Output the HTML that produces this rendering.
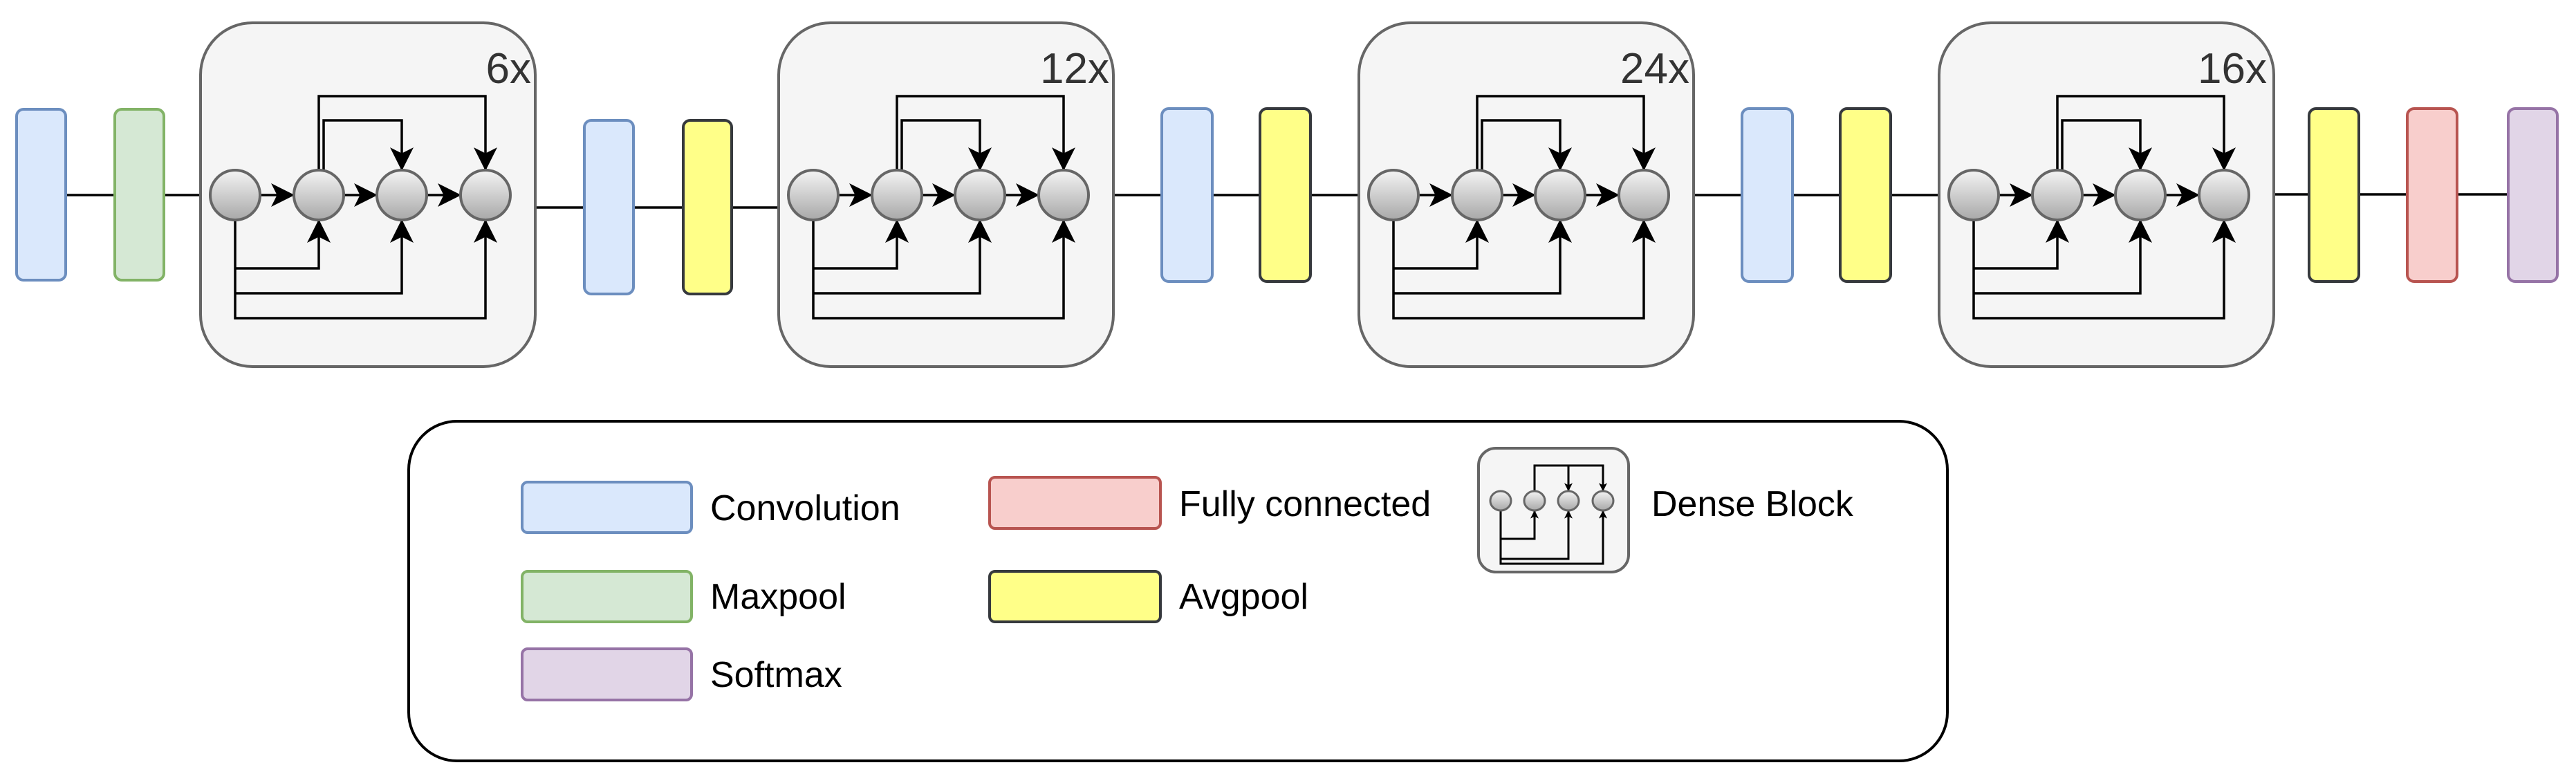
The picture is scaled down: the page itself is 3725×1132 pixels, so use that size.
<!DOCTYPE html>
<html><head><meta charset="utf-8"><style>html,body{margin:0;padding:0;background:#fff}svg{display:block}</style></head>
<body>
<svg width="3725" height="1132" viewBox="0 0 3725 1132" xmlns="http://www.w3.org/2000/svg" font-family="Liberation Sans, Arial, sans-serif">
<defs>
<linearGradient id="g" x1="0" y1="0" x2="0" y2="1"><stop offset="0" stop-color="#f4f4f4"/><stop offset="1" stop-color="#a8a8a8"/></linearGradient>
<marker id="a" markerUnits="userSpaceOnUse" markerWidth="34" markerHeight="34" viewBox="0 0 32 32" refX="31" refY="16" orient="auto"><path d="M0,0 L32,16 L0,32 L8,16 z" fill="#000"/></marker>
<marker id="s" markerUnits="userSpaceOnUse" markerWidth="12" markerHeight="12" viewBox="0 0 32 32" refX="31" refY="16" orient="auto"><path d="M0,0 L32,16 L0,32 L8,16 z" fill="#000"/></marker>
<g id="blk">
<rect x="0" y="33" width="484" height="497" rx="75" fill="#f5f5f5" stroke="#666" stroke-width="4"/>
<g fill="none" stroke="#000" stroke-width="3.5">
<path d="M171,246 V139 H412 V246" marker-end="url(#a)"/>
<path d="M178,246 V174 H291 V246" marker-end="url(#a)"/>
<path d="M50,318 V460 H412 V318" marker-end="url(#a)"/>
<path d="M50,388 H171 V318" marker-end="url(#a)"/>
<path d="M50,424 H291 V318" marker-end="url(#a)"/>
<path d="M86,282 H135" marker-end="url(#a)"/>
<path d="M207,282 H255" marker-end="url(#a)"/>
<path d="M327,282 H376" marker-end="url(#a)"/>
</g>
<g fill="url(#g)" stroke="#666" stroke-width="4">
<circle cx="50" cy="282" r="36"/><circle cx="171" cy="282" r="36"/><circle cx="291" cy="282" r="36"/><circle cx="412" cy="282" r="36"/>
</g>
</g>
</defs>

<!-- connectors main line -->
<g stroke="#000" stroke-width="3.5" fill="none">
<path d="M95,282 H166"/><path d="M238,282 H304"/>
<path d="M756,300 H845"/><path d="M916,300 H988"/><path d="M1058,300 H1126"/>
<path d="M1573,282 H1680"/><path d="M1753,282 H1822"/><path d="M1895,282 H1979"/>
<path d="M2412,282 H2519"/><path d="M2592,282 H2661"/><path d="M2734,282 H2818"/>
<path d="M3251,281 H3339"/><path d="M3411,281 H3481"/><path d="M3553,281 H3627"/>
</g>

<use href="#blk" x="290"/>
<use href="#blk" x="1126"/>
<use href="#blk" x="1965"/>
<use href="#blk" x="2804"/>
<g font-size="62" fill="#333" text-anchor="end">
<text x="768" y="120">6x</text>
<text x="1604" y="120">12x</text>
<text x="2443" y="120">24x</text>
<text x="3278" y="120">16x</text>
</g>

<g stroke-width="4">
<rect x="24" y="158" width="71" height="247" rx="10" fill="#dae8fc" stroke="#6c8ebf"/>
<rect x="166" y="158" width="71" height="247" rx="10" fill="#d5e8d4" stroke="#82b366"/>
<rect x="845" y="174" width="71" height="251" rx="10" fill="#dae8fc" stroke="#6c8ebf"/>
<rect x="988" y="174" width="70" height="251" rx="10" fill="#ffff88" stroke="#36393d"/>
<rect x="1680" y="157" width="73" height="250" rx="10" fill="#dae8fc" stroke="#6c8ebf"/>
<rect x="1822" y="157" width="73" height="250" rx="10" fill="#ffff88" stroke="#36393d"/>
<rect x="2519" y="157" width="73" height="250" rx="10" fill="#dae8fc" stroke="#6c8ebf"/>
<rect x="2661" y="157" width="73" height="250" rx="10" fill="#ffff88" stroke="#36393d"/>
<rect x="3339" y="157" width="72" height="250" rx="10" fill="#ffff88" stroke="#36393d"/>
<rect x="3481" y="157" width="72" height="250" rx="10" fill="#f8cecc" stroke="#b85450"/>
<rect x="3627" y="157" width="71" height="250" rx="10" fill="#e1d5e7" stroke="#9673a6"/>
</g>

<!-- legend -->
<rect x="591" y="609" width="2225" height="491" rx="70" fill="#fff" stroke="#000" stroke-width="4"/>
<g stroke-width="4">
<rect x="755" y="697" width="245" height="73" rx="8" fill="#dae8fc" stroke="#6c8ebf"/>
<rect x="755" y="826" width="245" height="73" rx="8" fill="#d5e8d4" stroke="#82b366"/>
<rect x="755" y="938" width="245" height="74" rx="8" fill="#e1d5e7" stroke="#9673a6"/>
<rect x="1431" y="690" width="247" height="74" rx="8" fill="#f8cecc" stroke="#b85450"/>
<rect x="1431" y="826" width="247" height="73" rx="8" fill="#ffff88" stroke="#36393d"/>
</g>
<g font-size="52" fill="#000">
<text x="1027" y="752">Convolution</text>
<text x="1027" y="880">Maxpool</text>
<text x="1027" y="993">Softmax</text>
<text x="1705" y="746">Fully connected</text>
<text x="1705" y="880">Avgpool</text>
<text x="2388" y="746">Dense Block</text>
</g>
<rect x="2138" y="648" width="217" height="179" rx="25" fill="#f5f5f5" stroke="#666" stroke-width="4"/>
<g fill="none" stroke="#000" stroke-width="3">
<path d="M2219,710 V673 H2318 V710" marker-end="url(#s)"/>
<path d="M2268,673 V710" marker-end="url(#s)"/>
<path d="M2170,738 V815 H2318 V738" marker-end="url(#s)"/>
<path d="M2170,779 H2219 V738" marker-end="url(#s)"/>
<path d="M2170,808 H2268 V738" marker-end="url(#s)"/>
</g>
<g fill="url(#g)" stroke="#666" stroke-width="3">
<ellipse cx="2170" cy="724" rx="15" ry="14"/><ellipse cx="2219" cy="724" rx="15" ry="14"/><ellipse cx="2268" cy="724" rx="15" ry="14"/><ellipse cx="2318" cy="724" rx="15" ry="14"/>
</g>
</svg>
</body></html>
